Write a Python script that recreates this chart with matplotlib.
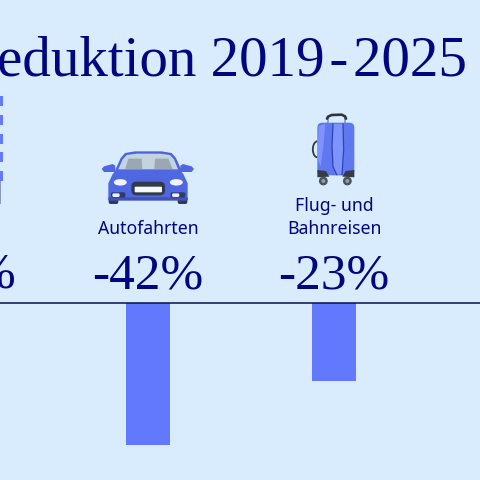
import matplotlib
matplotlib.use("Agg")
import matplotlib.pyplot as plt
from matplotlib.patches import Polygon, Rectangle, FancyBboxPatch, Circle, Arc, Ellipse

# --- data ---
title = "Reduktion 2019\u200a-\u200a2025"
categories = ["Autofahrten", "Flug- und\nBahnreisen"]
values = [-42, -23]
positions = [1, 2]
value_labels = ["-42%", "-23%"]

BG = "#d9ecfe"
NAVY = "#00067f"
BAR = "#6278fd"
SERIF = "Liberation Serif"
SANS = "Noto Sans"

fig = plt.figure(figsize=(4.8, 4.8), dpi=100, facecolor=BG)
ax = fig.add_axes([0, 0, 1, 1], facecolor=BG)
ax.set_xlim(0.204, 2.785)
ax.set_ylim(-52.5, 89.9)
ax.axis("off")

ax.bar(positions, values, width=0.235, color=BAR, zorder=2)
ax.axhline(0, color="#06104f", lw=1.1, zorder=3)

for p, c, v in zip(positions, categories, value_labels):
    ax.annotate(v, (p, 0), xytext=(0, 10.8), textcoords="offset points", ha="center",
                va="baseline", family=SERIF, fontsize=37, color=NAVY)
    ax.annotate(c, (p, 0), xytext=(0, 49.5), textcoords="offset points", ha="center",
                va="baseline", family=SANS, fontsize=12.7, color=NAVY,
                linespacing=1.41)

# partly visible neighbours, cut off by the picture edge
ax.annotate("%", (0, 0), xytext=(15, 192), xycoords="figure pixels",
            textcoords="figure pixels", ha="right", va="baseline",
            family=SERIF, fontsize=37, color=NAVY)
ax.annotate("-", (0, 0), xytext=(478, 192), xycoords="figure pixels",
            textcoords="figure pixels", ha="left", va="baseline",
            family=SERIF, fontsize=37, color=NAVY)

fig.text(467 / 480, 1 - 75.5 / 480, title, ha="right", va="baseline",
         family=SERIF, fontsize=41, color=NAVY)

# --- icons, on a pixel overlay ---
ov = fig.add_axes([0, 0, 1, 1])
ov.set_xlim(0, 480)
ov.set_ylim(480, 0)
ov.axis("off")
ov.patch.set_alpha(0)


def poly(pts, color, z=5, ox=0, s=1 / 3):
    ov.add_patch(Polygon([(ox + x * s, y * s) for x, y in pts], closed=True,
                         fc=color, ec="none", zorder=z))


def rbox(x0, y0, x1, y1, r, color, z=5, ox=0, s=1 / 3):
    ov.add_patch(FancyBboxPatch((ox + x0 * s + r, y0 * s + r),
                                (x1 - x0) * s - 2 * r, (y1 - y0) * s - 2 * r,
                                boxstyle=f"round,pad={r}", fc=color, ec="none", zorder=z))


# car
for x0, x1 in [(326, 355), (533, 562)]:
    rbox(x0, 590, x1, 612, 2, "#2d3a55", 4)
poly([(305, 507), (312, 499), (338, 492), (346, 497), (346, 516), (312, 516)], "#5067e2")
poly([(582, 507), (575, 499), (549, 492), (541, 497), (541, 516), (575, 516)], "#5067e2")
poly([(345, 512), (362, 474), (375, 459), (405, 454), (485, 454), (515, 459), (528, 474),
      (545, 512)], "#4f63e0")
poly([(354, 510), (368, 478), (380, 465), (410, 461), (480, 461), (510, 465), (522, 478),
      (535, 510)], "#c3d4df")
poly([(376, 507), (385, 476), (425, 476), (427, 507)], "#9ba8b4", 6)
poly([(463, 507), (465, 476), (505, 476), (518, 507)], "#9ba8b4", 6)
poly([(338, 522), (350, 508), (538, 508), (550, 522), (563, 550), (563, 600),
      (325, 600), (325, 550)], "#5067e2")
rbox(325, 592, 563, 602, 1, "#4153b8", 6)
for cx in (361, 529):
    ov.add_patch(Ellipse((cx / 3, 547 / 3), 13, 6.5, fc="#f1f5fb", ec="none", zorder=7))
rbox(394, 545, 495, 586, 5, "#2f3a4f", 7)
rbox(404, 560, 486, 577, 1, "#f5f7fb", 8)
for x0, x1 in [(333, 376), (512, 556)]:
    rbox(x0, 577, x1, 593, 1.5, "#2f3a6a", 7)
    rbox(x0 + 4, 580, x0 + 26, 591, 1.5, "#e8eef8", 8)

# suitcase
OX = 240
ov.add_patch(Arc((OX + 232 / 3, 448 / 3), 9, 16, theta1=90, theta2=270,
                 ec="#333a44", lw=1.3, zorder=4))
for x0 in (262, 312):
    ov.add_patch(Rectangle((OX + x0 / 3, 352 / 3), 1.5, 6, fc="#9aa6b8", ec="none", zorder=4))
ov.plot([OX + 261 / 3, OX + 264 / 3, OX + 275 / 3, OX + 305 / 3, OX + 315 / 3, OX + 318 / 3],
        [356 / 3, 350 / 3, 345 / 3, 344 / 3, 349 / 3, 356 / 3],
        color="#2f353f", lw=1.9, zorder=5, solid_capstyle="round")
rbox(232, 368, 343, 526, 5, "#5f78f0", 5, ox=OX)
poly([(279, 372), (309, 372), (312, 450), (308, 522), (290, 524), (279, 500), (276, 440)],
     "#7f94fa", 6, ox=OX)
poly([(236, 378), (256, 372), (250, 440), (242, 500), (233, 480)], "#7f94fa", 6, ox=OX)
ov.plot([OX + 279 / 3, OX + 276 / 3, OX + 279 / 3, OX + 290 / 3],
        [372 / 3, 440 / 3, 500 / 3, 524 / 3], color="#2d44b8", lw=0.9, zorder=7)
ov.plot([OX + 309 / 3, OX + 311 / 3, OX + 306 / 3],
        [372 / 3, 450 / 3, 524 / 3], color="#2d44b8", lw=0.9, zorder=7)
poly([(232, 510), (258, 513), (268, 530), (232, 532)], "#363c46", 8, ox=OX)
poly([(343, 510), (317, 513), (307, 530), (343, 532)], "#363c46", 8, ox=OX)
for cx in (250, 322):
    ov.add_patch(Circle((OX + cx / 3, 543 / 3), 4.4, fc="#4b535c", ec="none", zorder=8))
    ov.add_patch(Circle((OX + cx / 3, 543 / 3), 2, fc="#939ca3", ec="none", zorder=9))

# left neighbour's icon, cut off by the picture edge
for y0 in (96, 115, 134, 152, 171):
    ov.add_patch(Rectangle((0, y0), 3.3, 10, fc=BAR, ec="none", zorder=5))
ov.add_patch(Rectangle((0, 181), 1, 23, fc="#8a9bc0", ec="none", zorder=5))

fig.savefig("out.png", dpi=100, facecolor=BG)
